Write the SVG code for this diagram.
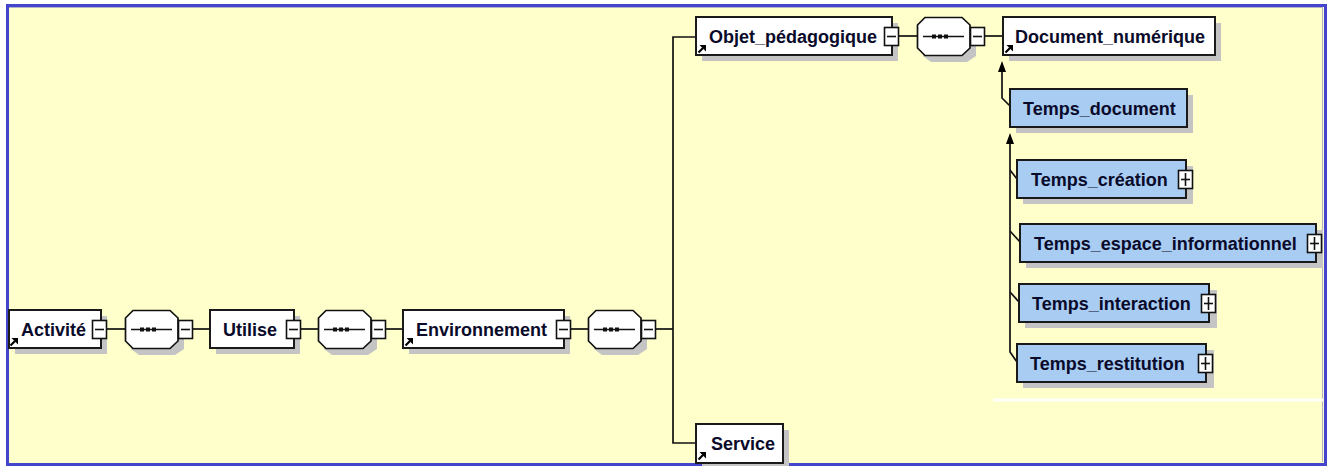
<svg xmlns="http://www.w3.org/2000/svg" xmlns:xlink="http://www.w3.org/1999/xlink" width="1333" height="466" viewBox="0 0 1333 466">
<style>
.box{fill:#fff;stroke:#1a1a1a;stroke-width:2}
.bbox{fill:#a8ccf2;stroke:#1a1a1a;stroke-width:2}
.sh{fill:#c4c4c4}
.t{font-family:"Liberation Sans",Arial,sans-serif;font-weight:bold;font-size:18px;fill:#0a0a2a}
.c{fill:none;stroke:#111;stroke-width:1.7}
.ah{fill:#000}
</style>
<defs>
<g id="minus"><rect x="0.5" y="0.5" width="14" height="18" fill="#fff" stroke="#111" stroke-width="1.6"/><line x1="3" y1="9.5" x2="12" y2="9.5" stroke="#111" stroke-width="1.6"/></g>
<g id="plus"><rect x="0.5" y="0.5" width="14" height="18" fill="#fff" stroke="#111" stroke-width="1.6"/><line x1="3" y1="9.5" x2="12" y2="9.5" stroke="#111" stroke-width="1.6"/><line x1="7.5" y1="3" x2="7.5" y2="16" stroke="#111" stroke-width="1.6"/></g>
<g id="ref"><line x1="1.5" y1="8.5" x2="6" y2="4" stroke="#000" stroke-width="2.2"/><polygon points="9,1 9,7.5 2.5,1" fill="#000"/></g>
<g id="oct">
<polygon points="14,6 50,6 59,15 59,39 50,45 14,45 6,39 6,15" class="sh"/>
<polygon points="8,0.5 45,0.5 53,8 53,31 45,38.5 8,38.5 0.5,31 0.5,8" fill="#fff" stroke="#111" stroke-width="1.7"/>
<line x1="6" y1="19.5" x2="47" y2="19.5" stroke="#111" stroke-width="1.5"/>
<rect x="15" y="17.5" width="4" height="4" fill="#111"/><rect x="21" y="17.5" width="4" height="4" fill="#111"/><rect x="27" y="17.5" width="4" height="4" fill="#111"/>
<use xlink:href="#minus" x="53" y="10"/>
</g>
</defs>

<rect x="0" y="0" width="1333" height="466" fill="#fff"/>
<rect x="7.5" y="5.5" width="1318" height="459" fill="#ffffcc" stroke="#4444cc" stroke-width="3"/>
<line x1="9" y1="7.5" x2="1323" y2="7.5" stroke="#b0b0c8" stroke-width="1"/>
<line x1="1322.5" y1="7" x2="1322.5" y2="462" stroke="#b0b0c8" stroke-width="1"/>
<line x1="993" y1="400" x2="1323" y2="400" stroke="#ffffff" stroke-width="2.5"/>

<g id="connectors">
<line class="c" x1="106" y1="329" x2="125" y2="329"/>
<line class="c" x1="193" y1="329" x2="210" y2="329"/>
<line class="c" x1="300" y1="329" x2="318" y2="329"/>
<line class="c" x1="386" y1="329" x2="403" y2="329"/>
<line class="c" x1="571" y1="329" x2="588" y2="329"/>
<line class="c" x1="656" y1="329" x2="673" y2="329"/>
<polyline class="c" points="696,37 673,37 673,443 696,443"/>
<line class="c" x1="899" y1="36" x2="917" y2="36"/>
<line class="c" x1="985" y1="36" x2="1003" y2="36"/>
<polyline class="c" points="1010,106 1002,98 1002,70"/>
<polygon class="ah" points="1002,61 1006,72 998,72"/>
<polyline class="c" points="1017,362 1010,352 1010,142"/>
<polygon class="ah" points="1010,133 1014,144 1006,144"/>
<polyline class="c" points="1017,179 1010,170"/>
<polyline class="c" points="1020,242 1010,231"/>
<polyline class="c" points="1019,302 1010,292"/>
</g>

<g id="n-activite">
<rect class="sh" x="15" y="316" width="92" height="38"/>
<rect class="box" x="9" y="310" width="92" height="38"/>
<text class="t" x="21" y="336">Activité</text>
<use xlink:href="#ref" x="9" y="337"/>
<use xlink:href="#minus" x="92" y="320"/>
</g>
<g id="seq1"><use xlink:href="#oct" x="125" y="310"/></g>
<g id="n-utilise">
<rect class="sh" x="216" y="316" width="84" height="38"/>
<rect class="box" x="210" y="310" width="84" height="38"/>
<text class="t" x="223" y="336">Utilise</text>
<use xlink:href="#minus" x="286" y="320"/>
</g>
<g id="seq2"><use xlink:href="#oct" x="318" y="310"/></g>
<g id="n-environnement">
<rect class="sh" x="409" y="316" width="161" height="38"/>
<rect class="box" x="403" y="310" width="161" height="38"/>
<text class="t" x="416" y="336">Environnement</text>
<use xlink:href="#ref" x="404" y="337"/>
<use xlink:href="#minus" x="556" y="320"/>
</g>
<g id="seq3"><use xlink:href="#oct" x="588" y="310"/></g>
<g id="n-objet">
<rect class="sh" x="702" y="23" width="196" height="38"/>
<rect class="box" x="696" y="17" width="196" height="38"/>
<text class="t" x="709" y="43">Objet_pédagogique</text>
<use xlink:href="#ref" x="697" y="44"/>
<use xlink:href="#minus" x="884" y="27"/>
</g>
<g id="seq4"><use xlink:href="#oct" x="917" y="17"/></g>
<g id="n-document">
<rect class="sh" x="1009" y="23" width="212" height="38"/>
<rect class="box" x="1003" y="17" width="212" height="38"/>
<text class="t" x="1015" y="43">Document_numérique</text>
<use xlink:href="#ref" x="1004" y="44"/>
</g>
<g id="n-service">
<rect class="sh" x="702" y="430" width="87" height="39"/>
<rect class="box" x="696" y="424" width="87" height="39"/>
<text class="t" x="711" y="450">Service</text>
<use xlink:href="#ref" x="697" y="451"/>
</g>
<g id="n-temps-document">
<rect class="sh" x="1016" y="95" width="177" height="38"/>
<rect class="bbox" x="1010" y="89" width="177" height="38"/>
<text class="t" x="1023" y="115">Temps_document</text>
</g>
<g id="n-temps-creation">
<rect class="sh" x="1023" y="166" width="170" height="38"/>
<rect class="bbox" x="1017" y="160" width="169" height="38"/>
<text class="t" x="1031" y="186">Temps_création</text>
<use xlink:href="#plus" x="1178" y="170"/>
</g>
<g id="n-temps-espace">
<rect class="sh" x="1026" y="230" width="297" height="38"/>
<rect class="bbox" x="1020" y="224" width="296" height="38"/>
<text class="t" x="1034" y="250">Temps_espace_informationnel</text>
<use xlink:href="#plus" x="1307" y="234"/>
</g>
<g id="n-temps-interaction">
<rect class="sh" x="1025" y="290" width="192" height="38"/>
<rect class="bbox" x="1019" y="284" width="190" height="38"/>
<text class="t" x="1032" y="310">Temps_interaction</text>
<use xlink:href="#plus" x="1201" y="294"/>
</g>
<g id="n-temps-restitution">
<rect class="sh" x="1023" y="350" width="191" height="38"/>
<rect class="bbox" x="1017" y="344" width="189" height="38"/>
<text class="t" x="1030" y="370">Temps_restitution</text>
<use xlink:href="#plus" x="1198" y="354"/>
</g>
</svg>
